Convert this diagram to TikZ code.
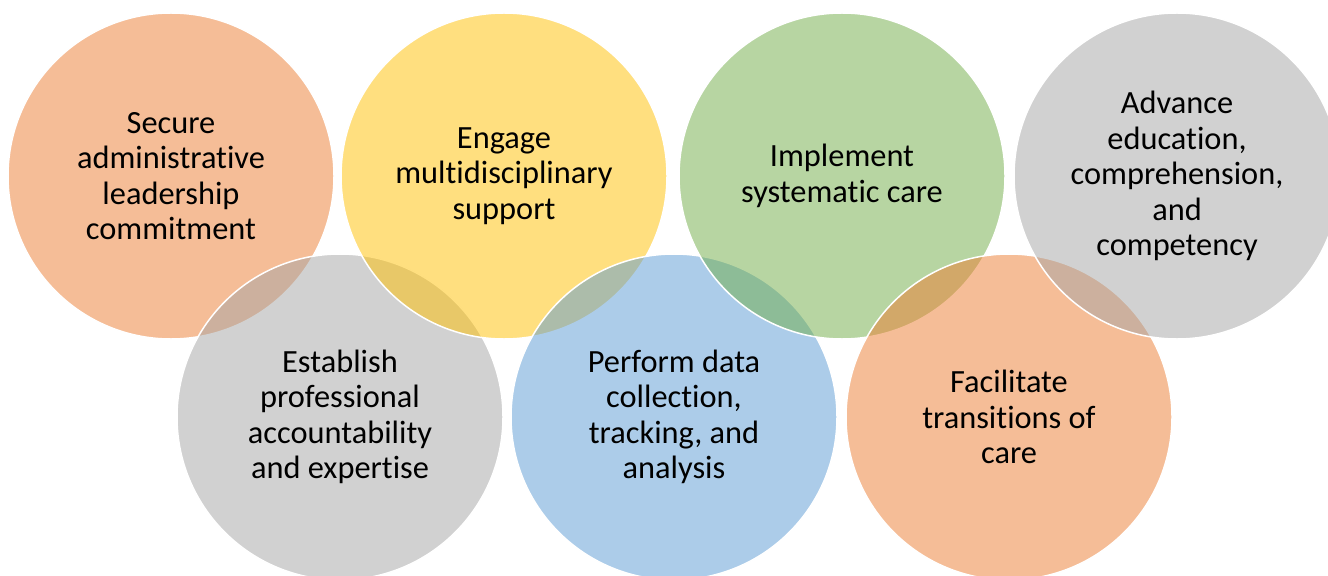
\documentclass[tikz,border=0pt]{standalone}
\usepackage{fontspec}
\setmainfont{Carlito}[Ligatures={NoCommon,NoRare,NoContextual}]
\definecolor{acOrange}{HTML}{ED7D31}
\definecolor{acGray}{HTML}{A5A5A5}
\definecolor{acYellow}{HTML}{FFC000}
\definecolor{acBlue}{HTML}{5B9BD5}
\definecolor{acGreen}{HTML}{70AD47}
\tikzset{
  venn/.style={circle, minimum size=326bp, inner sep=0pt, draw=white, line width=1.5bp,
    fill=#1, fill opacity=0.5, text opacity=1, text=black, align=center,
    font=\fontsize{32.5}{35.5}\selectfont}
}
\begin{document}
\begin{tikzpicture}[x=1bp,y=-1bp]
\useasboundingbox (0,0) rectangle (1328,576);
\fill[white] (0,0) rectangle (1328,576);
\begin{scope}
\clip (0,0) rectangle (1328,576);
\node[venn=acOrange] (secure) at (171,176) {Secure\\administrative\\leadership\\commitment};
\node[venn=acGray] (establish) at (340,417) {Establish\\professional\\accountability\\and expertise};
\node[venn=acYellow] (engage) at (504,176) {Engage\\multidisciplinary\\support};
\node[venn=acBlue] (perform) at (674,417) {Perform data\\collection,\\tracking, and\\analysis};
\node[venn=acGreen] (implement) at (842,176) {Implement\\systematic care};
\node[venn=acOrange] (facilitate) at (1009,417) {Facilitate\\transitions of\\care};
\node[venn=acGray] (advance) at (1177,176) {Advance\\education,\\comprehension,\\and\\competency};
\end{scope}
\end{tikzpicture}
\end{document}
